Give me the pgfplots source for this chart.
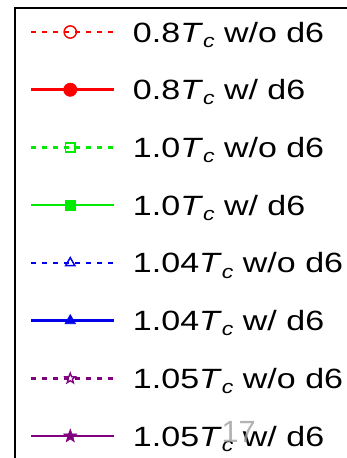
\documentclass[border=0pt]{standalone}
\usepackage{fontspec}
\setmainfont{Liberation Sans}[FakeStretch=1.22]
\newfontfamily\plainsans{Liberation Sans}
\usepackage{pgfplots}
\pgfplotsset{compat=1.18}

\definecolor{cRed}{RGB}{255,0,0}
\definecolor{cGreen}{RGB}{0,235,0}
\definecolor{cBlue}{RGB}{0,0,235}
\definecolor{cPurple}{RGB}{128,0,128}

% five-pointed star marks, open and filled
\pgfdeclareplotmark{ostar}{%
  \pgfpathmoveto{\pgfqpointpolar{90}{\pgfplotmarksize}}%
  \pgfpathlineto{\pgfqpointpolar{126}{0.42\pgfplotmarksize}}%
  \pgfpathlineto{\pgfqpointpolar{162}{\pgfplotmarksize}}%
  \pgfpathlineto{\pgfqpointpolar{198}{0.42\pgfplotmarksize}}%
  \pgfpathlineto{\pgfqpointpolar{234}{\pgfplotmarksize}}%
  \pgfpathlineto{\pgfqpointpolar{270}{0.42\pgfplotmarksize}}%
  \pgfpathlineto{\pgfqpointpolar{306}{\pgfplotmarksize}}%
  \pgfpathlineto{\pgfqpointpolar{342}{0.42\pgfplotmarksize}}%
  \pgfpathlineto{\pgfqpointpolar{18}{\pgfplotmarksize}}%
  \pgfpathlineto{\pgfqpointpolar{54}{0.42\pgfplotmarksize}}%
  \pgfpathclose
  \pgfusepathqstroke}
\pgfdeclareplotmark{fstar}{%
  \pgfpathmoveto{\pgfqpointpolar{90}{\pgfplotmarksize}}%
  \pgfpathlineto{\pgfqpointpolar{126}{0.42\pgfplotmarksize}}%
  \pgfpathlineto{\pgfqpointpolar{162}{\pgfplotmarksize}}%
  \pgfpathlineto{\pgfqpointpolar{198}{0.42\pgfplotmarksize}}%
  \pgfpathlineto{\pgfqpointpolar{234}{\pgfplotmarksize}}%
  \pgfpathlineto{\pgfqpointpolar{270}{0.42\pgfplotmarksize}}%
  \pgfpathlineto{\pgfqpointpolar{306}{\pgfplotmarksize}}%
  \pgfpathlineto{\pgfqpointpolar{342}{0.42\pgfplotmarksize}}%
  \pgfpathlineto{\pgfqpointpolar{18}{\pgfplotmarksize}}%
  \pgfpathlineto{\pgfqpointpolar{54}{0.42\pgfplotmarksize}}%
  \pgfpathclose
  \pgfusepathqfillstroke}

% T with an italic subscript c
\newcommand{\Tc}{\textit{T}\raisebox{-3.8pt}{\fontsize{14.2pt}{14pt}\selectfont\itshape c}}
\newcommand{\entry}[2]{\makebox[200pt][l]{#1\Tc{} #2 d6}}

\tikzset{
  dashedline/.style={line width=1.8pt, dash pattern=on 3.6pt off 4.65pt},
  solidline/.style={line width=1.9pt, solid},
}

\begin{document}
\begin{tikzpicture}
\useasboundingbox (0,0) rectangle (260.25pt,-343.5pt);
\clip (0,0) rectangle (260.25pt,-343.5pt);
\begin{axis}[
  at={(11.25pt,-6pt)}, anchor=north west,
  scale only axis, width=10pt, height=10pt,
  hide axis, xmin=0, xmax=1, ymin=0, ymax=1,
  legend cell align=left,
  legend image code/.code={
    \draw[mark repeat=2, mark phase=2, #1]
      plot coordinates {(0pt,0pt) (29.25pt,0pt) (62.25pt,0pt)};
  },
  legend style={
    at={(0,1)}, anchor=north west,
    draw=black, line width=1.5pt, outer sep=0pt,
    inner xsep=11.25pt, inner ysep=10.5pt,
    row sep=28.3pt, column sep=13.1pt,
    font=\fontsize{20.9pt}{25pt}\selectfont\color{black},
    nodes={inner sep=0pt, text height=15pt, text depth=0pt, anchor=west},
  },
]
\addlegendimage{cRed, dashedline, mark=o, mark size=4.6pt, mark options={solid, line width=1.1pt}}
\addlegendentry{\entry{0.8}{w/o}}
\addlegendimage{cRed, solidline, mark=*, mark size=5pt, mark options={solid, line width=0.4pt}}
\addlegendentry{\entry{0.8}{w/}}
\addlegendimage{cGreen, dashedline, mark=square, mark size=3.5pt, mark options={solid, line width=1.1pt}}
\addlegendentry{\entry{1.0}{w/o}}
\addlegendimage{cGreen, solidline, mark=square*, mark size=3.8pt, mark options={solid, line width=0.4pt}}
\addlegendentry{\entry{1.0}{w/}}
\addlegendimage{cBlue, dashedline, mark=triangle, mark size=4pt, mark options={solid, line width=1.1pt}}
\addlegendentry{\entry{1.04}{w/o}}
\addlegendimage{cBlue, solidline, mark=triangle*, mark size=4.6pt, mark options={solid, line width=0.4pt}}
\addlegendentry{\entry{1.04}{w/}}
\addlegendimage{cPurple, dashedline, mark=ostar, mark size=4pt, mark options={solid, line width=1pt}}
\addlegendentry{\entry{1.05}{w/o}}
\addlegendimage{cPurple, solidline, mark=fstar, mark size=5.2pt, mark options={solid, line width=0.4pt}}
\addlegendentry{\entry{1.05}{w/}}
\addlegendimage{empty legend}
\addlegendentry{}
\end{axis}
% page number
\node[anchor=base west, inner sep=0pt, text=black!40, text opacity=0.75,
      font=\plainsans\fontsize{23pt}{26pt}\selectfont] at (166pt,-331.5pt) {17};
\end{tikzpicture}
\end{document}
